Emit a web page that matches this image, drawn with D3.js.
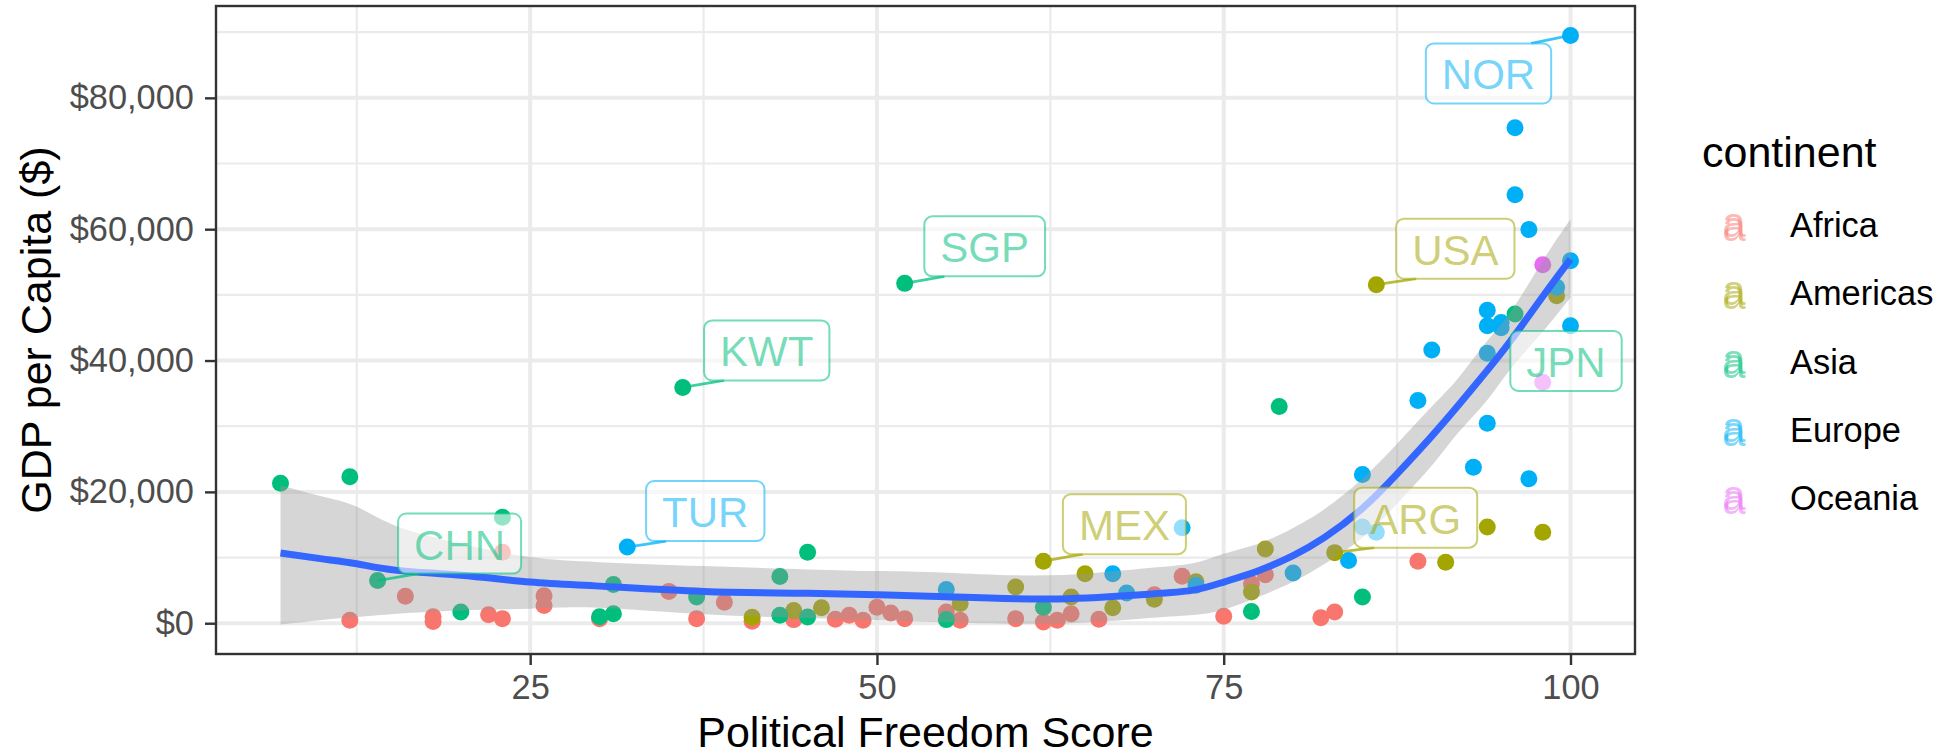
<!DOCTYPE html>
<html>
<head>
<meta charset="utf-8">
<script src="https://cdn.jsdelivr.net/npm/d3@7"></script>
<style>
  html, body { margin: 0; padding: 0; background: #ffffff; }
  svg { display: block; font-family: "Liberation Sans", Arial, Helvetica, sans-serif; }
</style>
</head>
<body>
<svg id="chart" width="1946" height="755"></svg>
<script>
// ---- data: [political freedom score, GDP per capita in $] ----
const continents = ["Africa", "Americas", "Asia", "Europe", "Oceania"];

const africa = [[12, 450], [16, 4100], [18, 1000], [18, 250], [22, 1300], [23, 700], [23, 10800],
  [26, 4200], [26, 2700], [30, 700], [35, 4850], [37, 700], [39, 3200], [41, 300], [44, 550],
  [47, 600], [48, 1200], [49, 450], [50, 2450], [51, 1550], [52, 700], [55, 1700], [56, 450],
  [60, 700], [62, 200], [63, 450], [64, 1450], [66, 600], [70, 4350], [72, 7150], [75, 1050],
  [77, 6000], [78, 7400], [82, 850], [83, 1700], [89, 9450]];

const americas = [[41, 900], [44, 1950], [46, 2350], [56, 3000], [60, 5500], [64, 4000],
  [65, 7550], [67, 2350], [70, 3650], [73, 6300], [77, 4750], [78, 11300], [91, 9300],
  [94, 14650], [98, 13850], [99, 49850]];

const asia = [[7, 21300], [12, 22300], [20, 1700], [23, 16150], [30, 1000], [31, 5900],
  [31, 1450], [37, 4000], [43, 7100], [43, 1200], [45, 10800], [45, 950], [55, 550],
  [62, 2450], [77, 1800], [79, 33000], [85, 4000]];

const europe = [[55, 5150], [67, 7550], [68, 4600], [72, 14550], [73, 5800], [80, 7650],
  [84, 9550], [85, 22650], [85, 14650], [86, 13850], [89, 33900], [90, 41600], [93, 23750],
  [94, 30450], [94, 41100], [94, 47650], [94, 45300], [95, 45800], [95, 45000], [96, 75450],
  [96, 65250], [97, 59950], [97, 22000], [99, 51150], [100, 55200], [100, 45300]];

const oceania = [[98, 54600], [98, 36700]];

// labelled countries
const labelCodes     = ["NOR", "USA", "JPN", "ARG", "MEX", "TUR", "CHN", "KWT", "SGP"];
const labelContinent = ["Europe", "Americas", "Asia", "Americas", "Americas", "Europe", "Asia", "Asia", "Asia"];
const labelFreedom   = [100, 86, 96, 83, 62, 32, 14, 36, 52];
const labelGdp       = [89500, 51550, 47100, 10750, 9450, 11600, 6500, 35900, 51750];

// loess fit with its confidence band
const smoothScore = [7, 10, 12.5, 15.4, 20, 25, 30, 37.5, 45, 50, 55, 62.5, 69, 72.7, 75, 77.5,
  80, 82.3, 85, 87.5, 90, 91.9, 94, 95.75, 98, 100];
const smoothFit  = [10700, 9800, 9050, 8050, 7300, 6270, 5650, 4850, 4550, 4350, 4050, 3700,
  4350, 5000, 6270, 8000, 10300, 13100, 17500, 22750, 28500, 33150, 38500, 43200, 49750, 55450];
const smoothLow  = [-200, 500, 950, 1450, 1950, 2220, 2350, 1350, 800, 450, 150, -60, 700, 1250,
  2070, 3990, 6300, 9060, 13000, 18190, 24000, 29000, 34000, 38900, 44400, 49600];
const smoothHigh = [21000, 19300, 17750, 14750, 12100, 10070, 9300, 8700, 8200, 7940, 7700, 7290,
  8300, 9100, 10580, 12100, 14500, 17430, 22000, 27320, 33000, 37300, 43000, 47600, 55200, 61530];

const xTicks = [25, 50, 75, 100];
const yTicks = [0, 20000, 40000, 60000, 80000];

// ---- layout ----
const W = 1946, H = 755;
const margin = { top: 6, right: 311, bottom: 101, left: 216 };
const plotW = W - margin.left - margin.right;
const plotH = H - margin.top - margin.bottom;
const palette = d3.scaleOrdinal().domain(continents)
  .range(["#F8766D", "#A3A500", "#00BF7D", "#00B0F6", "#E76BF3"]);

// label box offsets from their point (pixels), as placed by the repel layout
const labelNudge = {
  NOR: [-82, 38], USA: [79, -36], JPN: [51, 47], ARG: [81, -35], MEX: [81, -37],
  TUR: [78, -36], CHN: [82, -37], KWT: [84, -37], SGP: [80, -37]
};

// ---- assemble points ----
const groups = { Africa: africa, Americas: americas, Asia: asia, Europe: europe, Oceania: oceania };
const points = [];
continents.forEach(c => groups[c].forEach(([s, g]) => points.push({ score: s, gdp: g, continent: c })));
labelCodes.forEach((code, i) => points.push({
  score: labelFreedom[i], gdp: labelGdp[i], continent: labelContinent[i], code
}));

// ---- scales (5% expansion on each side, as ggplot does) ----
const xExt = d3.extent(points, d => d.score);
const xPad = (xExt[1] - xExt[0]) * 0.05;
const x = d3.scaleLinear().domain([xExt[0] - xPad, xExt[1] + xPad]).range([0, plotW]);

const yMin = Math.min(d3.min(points, d => d.gdp), d3.min(smoothLow));
const yMax = Math.max(d3.max(points, d => d.gdp), d3.max(smoothHigh));
const yPad = (yMax - yMin) * 0.05;
const y = d3.scaleLinear().domain([yMin - yPad, yMax + yPad]).range([plotH, 0]);

const svg = d3.select("#chart");
const defs = svg.append("defs");

// doubled glyph used for the legend keys
const ghost = defs.append("filter").attr("id", "key-ghost")
  .attr("x", "-20%").attr("y", "-20%").attr("width", "140%").attr("height", "160%");
ghost.append("feOffset").attr("in", "SourceGraphic").attr("dx", 0).attr("dy", 4).attr("result", "shifted");
const merge = ghost.append("feMerge");
merge.append("feMergeNode").attr("in", "SourceGraphic");
merge.append("feMergeNode").attr("in", "shifted");

const g = svg.append("g").attr("transform", `translate(${margin.left},${margin.top})`);

// ---- grid ----
function minorsOf(major, dom) {
  const step = major[1] - major[0];
  const out = major.map(v => v - step / 2).concat([major[major.length - 1] + step / 2]);
  return out.filter(v => v >= dom[0] && v <= dom[1]);
}
const grid = g.append("g");
grid.selectAll(".xminor").data(minorsOf(xTicks, x.domain())).join("line")
  .attr("x1", d => x(d)).attr("x2", d => x(d)).attr("y1", 0).attr("y2", plotH)
  .attr("stroke", "#EBEBEB").attr("stroke-width", 2.2);
grid.selectAll(".yminor").data(minorsOf(yTicks, y.domain())).join("line")
  .attr("y1", d => y(d)).attr("y2", d => y(d)).attr("x1", 0).attr("x2", plotW)
  .attr("stroke", "#EBEBEB").attr("stroke-width", 2.2);
grid.selectAll(".xmajor").data(xTicks).join("line")
  .attr("x1", d => x(d)).attr("x2", d => x(d)).attr("y1", 0).attr("y2", plotH)
  .attr("stroke", "#EBEBEB").attr("stroke-width", 4);
grid.selectAll(".ymajor").data(yTicks).join("line")
  .attr("y1", d => y(d)).attr("y2", d => y(d)).attr("x1", 0).attr("x2", plotW)
  .attr("stroke", "#EBEBEB").attr("stroke-width", 4);

// ---- data layers, clipped to the panel ----
defs.append("clipPath").attr("id", "panel-clip")
  .append("rect").attr("width", plotW).attr("height", plotH);
const layer = g.append("g").attr("clip-path", "url(#panel-clip)");

layer.append("g").selectAll("circle").data(points).join("circle")
  .attr("cx", d => x(d.score)).attr("cy", d => y(d.gdp)).attr("r", 8.5)
  .attr("fill", d => palette(d.continent));

const smooth = smoothScore.map((s, i) => ({ s, fit: smoothFit[i], lo: smoothLow[i], hi: smoothHigh[i] }));
layer.append("path").datum(smooth)
  .attr("d", d3.area().x(d => x(d.s)).y0(d => y(d.lo)).y1(d => y(d.hi)).curve(d3.curveNatural))
  .attr("fill", "#999999").attr("fill-opacity", 0.4);
layer.append("path").datum(smooth)
  .attr("d", d3.line().x(d => x(d.s)).y(d => y(d.fit)).curve(d3.curveNatural))
  .attr("fill", "none").attr("stroke", "#3366FF").attr("stroke-width", 7);

// ---- country labels ----
const labelFont = 42, padX = 16, boxH = 60;
const labels = points.filter(d => d.code).map(d => {
  const [dx, dy] = labelNudge[d.code];
  return { ...d, px: x(d.score), py: y(d.gdp), cx: x(d.score) + dx, cy: y(d.gdp) + dy };
});
const lab = layer.append("g");
const segLayer = lab.append("g");
const boxLayer = lab.append("g");
labels.forEach(d => {
  const col = palette(d.continent);
  const grp = boxLayer.append("g");
  const rect = grp.append("rect");
  const txt = grp.append("text").text(d.code)
    .attr("x", d.cx).attr("y", d.cy + 16)
    .attr("text-anchor", "middle").attr("font-size", labelFont)
    .attr("fill", col).attr("fill-opacity", 0.55);
  const w = txt.node().getComputedTextLength() + 2 * padX;
  const xL = d.cx - w / 2, xR = d.cx + w / 2, yT = d.cy - boxH / 2, yB = d.cy + boxH / 2;
  rect.attr("x", xL).attr("y", yT).attr("width", w).attr("height", boxH)
    .attr("rx", 8).attr("ry", 8)
    .attr("fill", "#ffffff").attr("fill-opacity", 0.58)
    .attr("stroke", col).attr("stroke-opacity", 0.55).attr("stroke-width", 2);
  // leader segment, only when the label sits far enough from its point
  const gapX = Math.max(xL - d.px, 0, d.px - xR);
  const gapY = Math.max(yT - d.py, 0, d.py - yB);
  if (Math.hypot(gapX, gapY) > 18) {
    const ex = Math.min(Math.max(d.px, xL + 20), xR - 20);
    const ey = Math.min(Math.max(d.py, yT), yB);
    segLayer.append("line")
      .attr("x1", d.px).attr("y1", d.py).attr("x2", ex).attr("y2", ey)
      .attr("stroke", col).attr("stroke-opacity", 0.75).attr("stroke-width", 2.8);
  }
});

// ---- panel border ----
g.append("rect").attr("width", plotW).attr("height", plotH)
  .attr("fill", "none").attr("stroke", "#333333").attr("stroke-width", 2.4);

// ---- axes ----
const tickFont = 34.4;
const xAxis = g.append("g").attr("transform", `translate(0,${plotH})`)
  .call(d3.axisBottom(x).tickValues(xTicks).tickSize(11).tickPadding(10).tickFormat(d3.format("d")));
const yAxis = g.append("g")
  .call(d3.axisLeft(y).tickValues(yTicks).tickSize(11).tickPadding(11).tickFormat(d3.format("$,")));
[xAxis, yAxis].forEach(a => {
  a.select(".domain").remove();
  a.selectAll(".tick line").attr("stroke", "#333333").attr("stroke-width", 2.4);
  a.selectAll(".tick text").attr("fill", "#4D4D4D").attr("font-size", tickFont)
    .attr("font-family", "'Liberation Sans', Arial, Helvetica, sans-serif");
});

// ---- axis titles ----
svg.append("text").text("Political Freedom Score")
  .attr("x", margin.left + plotW / 2).attr("y", 747)
  .attr("text-anchor", "middle").attr("font-size", 43).attr("fill", "#000000");
svg.append("text").text("GDP per Capita ($)")
  .attr("transform", `translate(51,${margin.top + plotH / 2}) rotate(-90)`)
  .attr("text-anchor", "middle").attr("font-size", 43).attr("fill", "#000000");

// ---- legend ----
const legend = svg.append("g").attr("transform", "translate(1702,0)");
legend.append("text").text("continent").attr("x", 0).attr("y", 167)
  .attr("font-size", 43).attr("fill", "#000000");
continents.forEach((c, i) => {
  const base = 237 + i * 68.3;
  legend.append("text").text("a")
    .attr("x", 32).attr("y", base).attr("text-anchor", "middle")
    .attr("font-size", 42).attr("fill", palette(c)).attr("fill-opacity", 0.5)
    .attr("filter", "url(#key-ghost)");
  legend.append("text").text(c).attr("x", 88).attr("y", base)
    .attr("font-size", 34.4).attr("fill", "#000000");
});
</script>
</body>
</html>
